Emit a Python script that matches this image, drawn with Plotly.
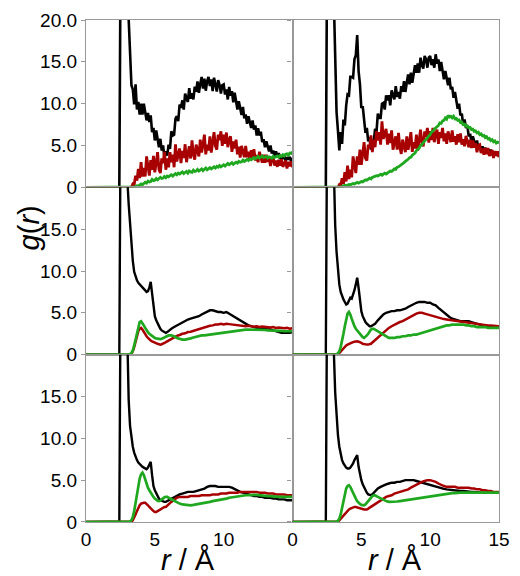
import numpy as np
import plotly.graph_objects as go
from plotly.subplots import make_subplots

# ---- sampling grids (Å) ----
r_top = np.round(np.arange(3.1, 15.0001, 0.1), 2)                     # 120 bins, upper row
r_low = np.concatenate([np.round(np.arange(3.0, 6.0001, 0.1), 2),
                        np.round(np.arange(6.2, 15.0001, 0.2), 2)])    # 76 bins, lower rows

# leading part of every curve (below the first bin)
black_head_r = [0.0, 2.42, 2.52, 2.65, 2.8, 2.95]
black_head_g = [0.0, 0.0, 30.0, 60.0, 40.0, 26.0]
zero_head_r = [0.0]
zero_head_g = [0.0]

# ---- row 1, left ----
tl_black = [19.0, 15.7, 12.2, 11.7, 9.9, 12.3, 9.3, 10.2, 8.7,
            10.0, 8.7, 10.0, 9.1, 8.0, 8.9, 7.8, 8.6, 6.6, 7.1,
            5.6, 6.8, 5.8, 4.8, 5.8, 4.4, 5.0, 3.5, 4.3, 3.8,
            5.1, 4.6, 6.7, 6.2, 6.3, 8.2, 8.5, 7.9, 9.9, 9.5,
            10.4, 9.3, 11.2, 10.75, 10.2, 11.85, 10.6, 11.25, 10.5, 12.05,
            11.4, 12.65, 11.3, 12.35, 13.2, 11.8, 13.0, 11.55, 12.7, 13.2,
            12.1, 12.9, 11.5, 13.1, 12.0, 11.45, 12.8, 12.25, 11.2, 12.2,
            12.3, 11.1, 11.7, 10.5, 12.0, 10.95, 11.5, 10.15, 11.3, 9.95,
            9.3, 10.3, 9.6, 8.65, 9.6, 8.25, 8.7, 7.6, 8.5, 7.9,
            7.1, 8.0, 6.9, 7.4, 6.2, 7.05, 6.2, 6.65, 5.4, 5.75,
            4.8, 5.5, 5.0, 4.3, 5.0, 4.05, 4.4, 3.7, 4.3, 3.7,
            4.1, 3.4, 3.85, 3.4, 3.8, 3.15, 3.6, 3.3, 3.65, 3.1, 3.5]
tl_red = [0.0, 0.0, 0.0, 0.4, 0.3, 1.4, 0.8, 2.2, 1.1,
          3.0, 1.3, 2.3, 1.3, 3.7, 2.45, 1.4, 3.25, 2.1, 3.75,
          1.8, 2.95, 4.2, 2.15, 1.7, 3.45, 2.9, 4.25, 2.1, 3.45,
          2.4, 4.2, 3.0, 3.9, 2.4, 5.15, 3.1, 3.9, 4.65, 2.9,
          4.35, 3.5, 5.15, 3.0, 4.15, 4.9, 3.45, 5.6, 3.95, 3.3,
          5.1, 4.45, 3.7, 5.7, 4.15, 5.1, 6.3, 3.95, 5.1, 4.4,
          6.1, 4.15, 5.5, 6.6, 4.95, 4.5, 6.3, 5.65, 6.7, 4.95,
          6.3, 5.2, 6.55, 4.8, 5.7, 6.1, 4.25, 5.5, 4.65, 5.7,
          3.95, 4.85, 3.55, 4.95, 4.25, 3.6, 4.95, 3.6, 4.25, 3.2,
          4.45, 3.5, 4.55, 3.2, 3.85, 3.0, 4.25, 3.5, 2.95, 3.9,
          2.95, 3.9, 3.05, 3.6, 2.55, 3.4, 3.55, 2.6, 3.2, 2.45,
          3.3, 2.6, 3.35, 2.45, 2.9, 3.2, 2.25, 3.05, 2.5, 3.1, 2.4]
tl_green = [0.0, 0.0, 0.0, 0.0, 0.05, 0.1, 0.2, 0.15, 0.3,
            0.4, 0.3, 0.5, 0.6, 0.5, 0.75, 0.65, 0.7, 0.95, 0.8,
            0.85, 1.05, 0.9, 1.0, 1.2, 1.05, 1.1, 1.3, 1.15, 1.35,
            1.25, 1.4, 1.5, 1.35, 1.45, 1.65, 1.5, 1.7, 1.6, 1.75,
            1.85, 1.65, 1.8, 1.9, 1.7, 1.95, 1.85, 1.8, 2.05, 1.9,
            1.95, 2.15, 1.95, 2.05, 2.2, 2.0, 2.15, 2.3, 2.1, 2.2,
            2.35, 2.2, 2.3, 2.45, 2.3, 2.5, 2.4, 2.6, 2.45, 2.55,
            2.7, 2.55, 2.65, 2.85, 2.7, 2.8, 2.95, 2.75, 2.9, 3.0,
            2.9, 3.1, 3.0, 3.05, 3.25, 3.1, 3.2, 3.35, 3.2, 3.4,
            3.3, 3.45, 3.55, 3.4, 3.5, 3.7, 3.5, 3.6, 3.75, 3.55,
            3.6, 3.7, 3.5, 3.65, 3.6, 3.5, 3.7, 3.55, 3.65, 3.75,
            3.6, 3.8, 3.7, 3.9, 3.75, 3.95, 4.0, 3.85, 4.1, 4.05, 4.25]

# ---- row 1, right ----
tr_black = [14.0, 9.0, 6.8, 4.4, 6.6, 5.2, 8.1, 7.4, 9.8,
            11.1, 11.0, 13.2, 13.2, 13.1, 15.3, 15.8, 18.2, 13.9, 12.3,
            9.5, 9.7, 8.0, 6.5, 7.1, 5.5, 6.0, 4.5, 5.5, 5.4,
            7.0, 6.6, 8.8, 8.3, 8.3, 10.0, 10.1, 9.3, 11.0, 10.4,
            11.0, 9.8, 11.6, 11.1, 10.5, 12.1, 10.8, 11.4, 10.6, 12.1,
            11.4, 12.7, 11.4, 12.5, 13.5, 12.3, 13.7, 12.5, 13.8, 14.6,
            13.7, 14.8, 13.7, 15.5, 14.6, 14.2, 15.7, 15.3, 14.3, 15.5,
            15.7, 14.6, 15.3, 14.3, 15.9, 14.8, 15.3, 13.9, 15.0, 13.6,
            12.9, 13.9, 13.2, 12.2, 13.1, 11.7, 12.0, 10.7, 11.4, 10.5,
            9.4, 10.0, 8.6, 8.8, 7.4, 8.1, 7.1, 7.4, 6.1, 6.4,
            5.4, 6.1, 5.6, 4.9, 5.6, 4.65, 5.0, 4.3, 4.9, 4.3,
            4.75, 4.1, 4.55, 4.1, 4.5, 3.85, 4.3, 3.95, 4.3, 3.75, 4.1]
tr_red = [0.0, 0.0, 0.0, 0.3, 0.1, 1.1, 0.4, 1.8, 0.7,
          2.6, 1.0, 2.1, 1.2, 3.7, 2.6, 1.7, 3.7, 2.7, 4.5,
          2.7, 4.0, 5.4, 3.5, 3.2, 5.1, 4.7, 6.2, 4.2, 5.7,
          4.8, 6.7, 5.6, 6.6, 5.1, 7.9, 5.8, 6.4, 7.0, 5.1,
          6.4, 5.3, 6.8, 4.5, 5.5, 6.1, 4.5, 6.5, 4.8, 4.0,
          5.7, 5.0, 4.2, 6.1, 4.5, 5.45, 6.6, 4.25, 5.4, 4.65,
          6.3, 4.4, 5.8, 6.9, 5.3, 4.9, 6.7, 6.05, 7.1, 5.35,
          6.7, 5.65, 7.1, 5.4, 6.4, 6.9, 5.2, 6.6, 5.9, 7.1,
          5.5, 6.45, 5.2, 6.7, 6.05, 5.4, 6.8, 5.45, 6.1, 5.1,
          6.35, 5.4, 6.45, 5.1, 5.75, 4.9, 6.15, 5.4, 4.8, 5.7,
          4.7, 5.6, 4.75, 5.3, 4.2, 5.0, 5.1, 4.1, 4.65, 3.9,
          4.7, 3.95, 4.7, 3.75, 4.2, 4.45, 3.5, 4.3, 3.75, 4.3, 3.6]
tr_green = [0.0, 0.0, 0.0, 0.0, 0.05, 0.1, 0.15, 0.25, 0.2,
            0.3, 0.35, 0.3, 0.4, 0.45, 0.4, 0.5, 0.6, 0.5, 0.65,
            0.7, 0.65, 0.8, 0.9, 0.85, 1.0, 1.1, 1.0, 1.2, 1.25,
            1.3, 1.4, 1.35, 1.45, 1.55, 1.45, 1.6, 1.7, 1.6, 1.75,
            1.85, 1.95, 1.9, 2.1, 2.2, 2.15, 2.4, 2.45, 2.55, 2.7,
            2.8, 2.95, 3.1, 3.2, 3.35, 3.55, 3.6, 3.85, 4.0, 4.1,
            4.4, 4.55, 4.7, 5.0, 5.1, 5.35, 5.5, 5.75, 5.9, 6.15,
            6.3, 6.6, 6.7, 6.95, 7.1, 7.35, 7.4, 7.7, 7.65, 7.95,
            8.0, 8.3, 8.15, 8.6, 8.4, 8.5, 8.3, 8.5, 8.2, 8.25,
            8.0, 8.05, 7.75, 7.8, 7.5, 7.55, 7.3, 7.35, 7.1, 7.15,
            6.9, 6.95, 6.7, 6.75, 6.5, 6.6, 6.3, 6.4, 6.15, 6.2,
            5.95, 6.05, 5.8, 5.85, 5.6, 5.7, 5.45, 5.55, 5.3, 5.4, 5.3]

# ---- row 2, left ----
ml_black = [21.0, 18.0, 15.5, 13.2, 11.2, 9.9, 9.3, 8.9, 8.6, 8.4,
            8.2, 8.0, 7.8, 7.7, 7.5, 7.6, 8.0, 8.7, 7.2, 5.3,
            4.6, 4.1, 3.7, 3.4, 3.1, 2.9, 2.8, 2.7, 2.6, 2.7, 2.8,
            3.1, 3.3, 3.5, 3.7, 3.9, 4.1, 4.2, 4.3, 4.4, 4.5,
            4.6, 4.8, 5.0, 5.2, 5.3, 5.3, 5.2, 5.1, 5.1, 5.0,
            5.1, 4.9, 4.7, 4.5, 4.3, 4.1, 3.9, 3.7, 3.5, 3.4,
            3.3, 3.2, 3.2, 3.1, 3.1, 3.0, 3.0, 2.9, 2.8, 2.7,
            2.6, 2.6, 2.6, 2.6, 2.7]
ml_red = [0.0, 0.0, 0.0, 0.1, 0.4, 0.9, 1.6, 2.3, 2.8, 3.1,
          3.2, 3.0, 2.7, 2.4, 2.2, 2.0, 1.8, 1.7, 1.6, 1.5,
          1.4, 1.35, 1.3, 1.25, 1.2, 1.25, 1.3, 1.4, 1.5, 1.6, 1.7,
          1.9, 2.1, 2.25, 2.35, 2.5, 2.55, 2.7, 2.75, 2.85, 3.0,
          3.05, 3.2, 3.25, 3.4, 3.45, 3.5, 3.6, 3.6, 3.7, 3.6,
          3.7, 3.65, 3.6, 3.55, 3.5, 3.5, 3.45, 3.4, 3.45, 3.4,
          3.35, 3.4, 3.3, 3.35, 3.3, 3.3, 3.25, 3.3, 3.2, 3.25,
          3.2, 3.15, 3.2, 3.1, 3.15]
ml_green = [0.0, 0.0, 0.05, 0.2, 0.5, 1.1, 1.8, 2.7, 3.4, 3.9,
            4.0, 3.8, 3.5, 3.2, 2.9, 2.7, 2.5, 2.35, 2.2, 2.1,
            2.0, 1.95, 1.9, 1.85, 1.85, 1.9, 1.95, 2.05, 2.15, 2.25, 2.3,
            2.3, 2.2, 2.0, 1.9, 1.8, 1.8, 1.85, 1.95, 2.05, 2.15,
            2.2, 2.3, 2.3, 2.35, 2.4, 2.45, 2.5, 2.55, 2.6, 2.65,
            2.7, 2.75, 2.8, 2.85, 2.9, 2.95, 3.0, 3.0, 3.0, 3.0,
            3.0, 3.0, 3.0, 2.95, 2.95, 2.9, 2.9, 2.9, 2.85, 2.85,
            2.85, 2.8, 2.8, 2.8, 2.8]

# ---- row 2, right ----
mr_black = [21.0, 15.5, 12.3, 10.0, 8.4, 7.5, 7.0, 6.6, 6.3, 6.0,
            6.1, 6.5, 6.8, 6.7, 7.1, 7.7, 8.4, 9.2, 8.0, 6.2,
            5.2, 4.6, 4.2, 3.9, 3.7, 3.5, 3.4, 3.4, 3.5, 3.6, 3.7,
            4.1, 4.5, 4.8, 5.0, 5.1, 5.2, 5.2, 5.3, 5.3, 5.4,
            5.5, 5.7, 5.9, 6.1, 6.2, 6.3, 6.3, 6.3, 6.2, 6.2,
            6.0, 5.9, 5.6, 5.3, 5.0, 4.7, 4.5, 4.3, 4.2, 4.1,
            4.0, 4.0, 4.0, 4.0, 3.9, 3.8, 3.7, 3.6, 3.5, 3.4,
            3.3, 3.3, 3.2, 3.2, 3.2]
mr_red = [0.0, 0.0, 0.0, 0.05, 0.2, 0.4, 0.6, 0.8, 1.0, 1.1,
          1.2, 1.3, 1.4, 1.45, 1.5, 1.55, 1.6, 1.6, 1.55, 1.5,
          1.4, 1.3, 1.25, 1.2, 1.2, 1.2, 1.25, 1.3, 1.45, 1.6, 1.8,
          2.1, 2.4, 2.7, 2.95, 3.2, 3.4, 3.6, 3.75, 3.9, 4.0,
          4.2, 4.4, 4.6, 4.75, 4.9, 5.0, 5.0, 4.9, 4.8, 4.7,
          4.6, 4.5, 4.4, 4.35, 4.25, 4.2, 4.15, 4.1, 4.1, 4.05,
          4.0, 3.95, 3.9, 3.85, 3.8, 3.75, 3.7, 3.65, 3.6, 3.55,
          3.5, 3.5, 3.45, 3.45, 3.4]
mr_green = [0.0, 0.0, 0.05, 0.15, 0.4, 0.9, 1.6, 2.5, 3.4, 4.3,
            4.9, 5.1, 4.8, 4.3, 3.8, 3.4, 3.1, 2.9, 2.7, 2.4,
            2.2, 2.1, 2.0, 2.1, 2.3, 2.5, 2.8, 3.0, 3.1, 3.1, 3.0,
            2.8, 2.5, 2.3, 2.1, 2.0, 2.0, 2.0, 2.1, 2.1, 2.2,
            2.2, 2.3, 2.3, 2.4, 2.4, 2.5, 2.6, 2.7, 2.8, 2.9,
            3.0, 3.1, 3.2, 3.3, 3.4, 3.5, 3.5, 3.6, 3.6, 3.6,
            3.6, 3.6, 3.5, 3.5, 3.4, 3.4, 3.3, 3.3, 3.3, 3.3,
            3.2, 3.2, 3.2, 3.2, 3.2]

# ---- row 3, left ----
bl_black = [20.5, 14.6, 11.5, 9.8, 9.0, 8.3, 7.8, 7.4, 7.1, 6.9,
            6.7, 6.6, 6.5, 6.4, 6.3, 6.5, 6.9, 7.2, 5.6, 4.3,
            3.8, 3.4, 3.1, 2.8, 2.6, 2.5, 2.4, 2.4, 2.4, 2.5, 2.6,
            2.8, 3.0, 3.2, 3.3, 3.4, 3.5, 3.6, 3.6, 3.6, 3.7,
            3.8, 3.9, 4.0, 4.2, 4.3, 4.3, 4.3, 4.2, 4.2, 4.2,
            4.2, 4.2, 4.1, 3.9, 3.8, 3.6, 3.5, 3.4, 3.3, 3.2,
            3.1, 3.1, 3.0, 3.0, 2.9, 2.9, 2.9, 2.8, 2.8, 2.7,
            2.7, 2.7, 2.6, 2.6, 2.6]
bl_red = [0.0, 0.0, 0.0, 0.05, 0.2, 0.5, 0.9, 1.3, 1.7, 2.0,
          2.2, 2.3, 2.3, 2.3, 2.2, 2.0, 1.8, 1.6, 1.4, 1.3,
          1.2, 1.2, 1.3, 1.4, 1.6, 1.7, 1.7, 1.8, 1.8, 1.9, 2.1,
          2.4, 2.7, 2.9, 3.0, 3.0, 3.0, 3.0, 3.1, 3.1, 3.1,
          3.1, 3.2, 3.2, 3.2, 3.2, 3.3, 3.3, 3.3, 3.4, 3.4,
          3.4, 3.5, 3.5, 3.5, 3.5, 3.6, 3.6, 3.6, 3.6, 3.6,
          3.6, 3.6, 3.5, 3.5, 3.5, 3.4, 3.4, 3.4, 3.3, 3.3,
          3.3, 3.3, 3.2, 3.2, 3.2]
bl_green = [0.0, 0.0, 0.05, 0.2, 0.6, 1.3, 2.3, 3.3, 4.3, 5.2,
            5.7, 5.9, 5.6, 5.0, 4.5, 4.1, 3.8, 3.5, 3.2, 3.0,
            2.8, 2.65, 2.55, 2.5, 2.55, 2.7, 2.85, 2.95, 3.0, 3.0, 2.9,
            2.7, 2.5, 2.3, 2.2, 2.1, 2.05, 2.0, 2.0, 2.05, 2.1,
            2.15, 2.2, 2.3, 2.35, 2.4, 2.5, 2.55, 2.6, 2.7, 2.75,
            2.8, 2.9, 2.95, 3.0, 3.1, 3.15, 3.2, 3.2, 3.2, 3.25,
            3.25, 3.25, 3.2, 3.2, 3.15, 3.1, 3.1, 3.05, 3.05, 3.0,
            3.0, 3.0, 3.0, 3.0, 3.0]

# ---- row 3, right ----
br_black = [20.5, 15.5, 12.6, 10.4, 9.0, 8.0, 7.4, 7.0, 6.7, 6.5,
            6.4, 6.4, 6.5, 6.7, 7.0, 7.4, 7.8, 8.0, 6.6, 5.6,
            5.0, 4.5, 4.1, 3.8, 3.5, 3.3, 3.2, 3.2, 3.3, 3.5, 3.7,
            4.0, 4.2, 4.4, 4.5, 4.6, 4.7, 4.7, 4.8, 4.8, 4.9,
            5.0, 5.0, 5.0, 5.0, 4.9, 4.8, 4.7, 4.6, 4.5, 4.4,
            4.3, 4.2, 4.1, 4.0, 3.95, 3.9, 3.85, 3.8, 3.8, 3.75,
            3.7, 3.7, 3.65, 3.6, 3.6, 3.6, 3.55, 3.5, 3.5, 3.5,
            3.5, 3.5, 3.5, 3.5, 3.5]
br_red = [0.0, 0.0, 0.0, 0.05, 0.2, 0.4, 0.6, 0.8, 1.0, 1.2,
          1.4, 1.5, 1.6, 1.7, 1.75, 1.8, 1.8, 1.75, 1.7, 1.6,
          1.55, 1.5, 1.5, 1.5, 1.5, 1.6, 1.7, 1.85, 2.0, 2.1, 2.2,
          2.4, 2.6, 2.8, 3.0, 3.1, 3.2, 3.4, 3.5, 3.6, 3.7,
          3.8, 3.9, 4.1, 4.3, 4.5, 4.7, 4.8, 4.9, 5.0, 5.0,
          4.9, 4.8, 4.6, 4.4, 4.3, 4.2, 4.2, 4.2, 4.2, 4.1,
          4.1, 4.1, 4.1, 4.1, 4.0, 4.0, 3.9, 3.9, 3.8, 3.8,
          3.7, 3.7, 3.6, 3.6, 3.6]
br_green = [0.0, 0.0, 0.05, 0.15, 0.4, 0.9, 1.6, 2.4, 3.3, 4.0,
            4.3, 4.4, 4.2, 3.8, 3.4, 3.1, 2.8, 2.5, 2.3, 2.15,
            2.05, 2.0, 2.0, 2.1, 2.3, 2.6, 2.8, 3.0, 3.1, 3.2, 3.2,
            3.0, 2.8, 2.6, 2.5, 2.4, 2.4, 2.4, 2.45, 2.5, 2.55,
            2.6, 2.7, 2.75, 2.8, 2.85, 2.9, 2.95, 3.0, 3.05, 3.1,
            3.15, 3.2, 3.25, 3.3, 3.35, 3.4, 3.4, 3.45, 3.45, 3.5,
            3.5, 3.5, 3.5, 3.5, 3.5, 3.5, 3.5, 3.5, 3.5, 3.5,
            3.5, 3.5, 3.5, 3.5, 3.5]

panels = [
    (1, 1, r_top, tl_black, tl_red, tl_green),
    (1, 2, r_top, tr_black, tr_red, tr_green),
    (2, 1, r_low, ml_black, ml_red, ml_green),
    (2, 2, r_low, mr_black, mr_red, mr_green),
    (3, 1, r_low, bl_black, bl_red, bl_green),
    (3, 2, r_low, br_black, br_red, br_green),
]

BLACK = "#000000"
RED = "#a80000"
GREEN = "#1fa81f"
FRAME = "#999999"
FONT = "Liberation Sans, Arial, sans-serif"

fig = make_subplots(rows=3, cols=2, horizontal_spacing=0, vertical_spacing=0)

for row, col, grid, gb, gr, gg in panels:
    assert len(gb) == len(grid) and len(gr) == len(grid) and len(gg) == len(grid)
    noisy = row == 1
    series = [
        (black_head_r, black_head_g, gb, BLACK, 2.6 if noisy else 2.4),
        (zero_head_r, zero_head_g, gr, RED, 2.8 if noisy else 2.5),
        (zero_head_r, zero_head_g, gg, GREEN, 2.8 if noisy else 2.7),
    ]
    for hr, hg, vals, color, w in series:
        fig.add_trace(
            go.Scatter(x=list(hr) + list(grid), y=list(hg) + list(vals),
                       mode="lines", line=dict(color=color, width=w),
                       showlegend=False, hoverinfo="skip"),
            row=row, col=col)

y_vals_top = [0, 5, 10, 15, 20]
y_text_top = ["0", "5.0", "10.0", "15.0", "20.0"]
y_vals = [0, 5, 10, 15]
y_text = ["0", "5.0", "10.0", "15.0"]
x_vals_left = [0, 5, 10]
x_vals_right = [0, 5, 10, 15]

for row in (1, 2, 3):
    for col in (1, 2):
        yv = y_vals_top if row == 1 else y_vals
        yt = y_text_top if row == 1 else y_text
        fig.update_yaxes(range=[0, 20], tickvals=yv, ticktext=yt,
                         showticklabels=(col == 1),
                         ticks="outside", ticklen=4, tickwidth=1, tickcolor=FRAME,
                         showline=True, linecolor=FRAME, linewidth=1.2, mirror=True,
                         showgrid=False, zeroline=False, layer="below traces",
                         ticklabeloverflow="allow",
                         tickfont=dict(family=FONT, size=19, color="black"),
                         row=row, col=col)
        xv = x_vals_left if col == 1 else x_vals_right
        fig.update_xaxes(range=[0, 15], tickvals=xv, ticktext=[str(v) for v in xv],
                         showticklabels=(row == 3), ticks="",
                         showline=True, linecolor=FRAME, linewidth=1.2, mirror=True,
                         showgrid=False, zeroline=False, layer="below traces",
                         ticklabeloverflow="allow",
                         tickfont=dict(family=FONT, size=19, color="black"),
                         row=row, col=col)

title_font = dict(family=FONT, size=29, color="black")
annotations = [
    dict(text="<i>g</i>(<i>r</i>)", x=-0.139, y=0.586, xref="paper", yref="paper",
         textangle=-90, showarrow=False, xanchor="center", yanchor="middle", font=title_font),
    dict(text="<i>r</i> / Å", x=0.2476, y=-0.076, xref="paper", yref="paper",
         showarrow=False, xanchor="center", yanchor="middle", font=title_font),
    dict(text="<i>r</i> / Å", x=0.7476, y=-0.076, xref="paper", yref="paper",
         showarrow=False, xanchor="center", yanchor="middle", font=title_font),
]

fig.update_layout(width=520, height=576,
                  margin=dict(l=86, r=10, t=20, b=54),
                  paper_bgcolor="white", plot_bgcolor="white",
                  annotations=annotations)

fig.write_html("out.html")
